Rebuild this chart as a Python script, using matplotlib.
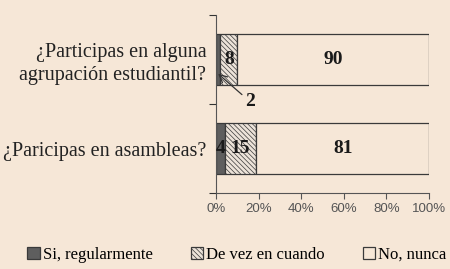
import matplotlib.pyplot as plt
import numpy as np

# datos
preguntas = ["¿Participas en alguna\nagrupación estudiantil?", "¿Paricipas en asambleas?"]
si_regular = [2, 4]
de_vez = [8, 15]
no_nunca = [90, 81]
nombres = ["Si, regularmente", "De vez en cuando", "No, nunca"]
xticks = [0, 20, 40, 60, 80, 100]

bg = '#f6e7d7'
plt.rcParams['font.family'] = ['Liberation Serif', 'DejaVu Serif']
plt.rcParams['hatch.color'] = '#a8a29b'
plt.rcParams['hatch.linewidth'] = 0.5

fig = plt.figure(figsize=(4.5, 2.69), dpi=100, facecolor=bg)
ax = fig.add_axes([0.48, 0.2825, 0.473, 0.6615])
ax.set_facecolor(bg)

y = np.arange(len(preguntas))
h = 0.58
left = np.zeros(len(preguntas))
estilos = [dict(color='#5e5e5e', hatch=None),
           dict(color='#ece3d9', hatch='\\\\\\\\\\\\\\'),
           dict(color=bg, hatch=None)]
series = [si_regular, de_vez, no_nunca]
for vals, nom, st in zip(series, nombres, estilos):
    ax.barh(y, vals, height=h, left=left, color=st['color'], hatch=st['hatch'],
            edgecolor='#3a3a3a', linewidth=0.9, label=nom)
    for i, v in enumerate(vals):
        if v >= 3:
            ax.text(left[i] + v / 2, y[i], str(v), ha='center', va='center',
                    fontsize=14, fontweight='bold', color='#1a1a1a')
    left += np.array(vals)

# etiqueta con flecha para el 2
ax.annotate(str(si_regular[0]), xy=(1, 0.16), xytext=(13.5, 0.47),
            ha='left', va='center', fontsize=14, fontweight='bold', color='#1a1a1a',
            arrowprops=dict(arrowstyle='->', color='#333333', lw=0.9, shrinkA=0, shrinkB=0))

ax.set_xlim(0, 100)
ax.set_ylim(1.5, -0.5)
ax.set_xticks(xticks)
ax.set_xticklabels([f"{t}%" for t in xticks], fontsize=9.5, color='#555555',
                   family=['Liberation Sans', 'DejaVu Sans'])
ax.set_yticks([-0.5, 0.5, 1.5])
ax.set_yticklabels([])
ax.set_yticks(y, minor=True)
ax.set_yticklabels(preguntas, minor=True, fontsize=14.5, color='#222222', linespacing=1.3)
ax.tick_params(axis='y', which='minor', length=0, pad=7)
ax.tick_params(axis='y', which='major', length=5, color='#333333')
ax.tick_params(axis='x', length=4, color='#555555', pad=3)
for s in ['top', 'right']:
    ax.spines[s].set_visible(False)
for s in ['left', 'bottom']:
    ax.spines[s].set_color('#555555')

fig.legend(loc='lower left', bbox_to_anchor=(0.035, -0.02), ncol=3, frameon=False,
           fontsize=12, handlelength=0.75, handleheight=0.75, handletextpad=0.2,
           columnspacing=2.25, borderaxespad=0.3)

fig.savefig('out.png', dpi=100, facecolor=bg)
